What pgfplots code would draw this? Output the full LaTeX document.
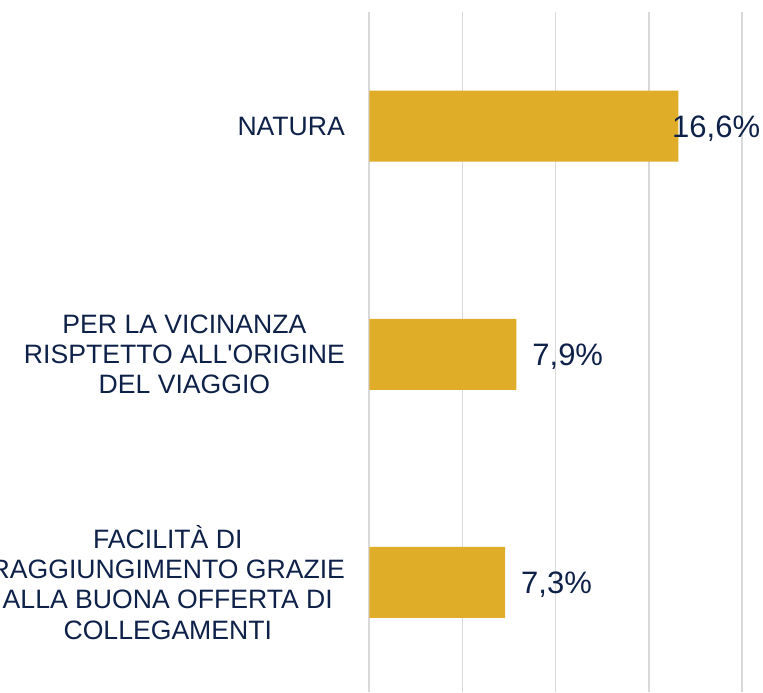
\documentclass[border=0pt]{standalone}
\usepackage{pgfplots}
\pgfplotsset{compat=1.18}
\usepackage{fontspec}
\setmainfont{Liberation Sans}
\definecolor{navy}{HTML}{0E2148}
\definecolor{gold}{HTML}{E0AD28}
\definecolor{gridgray}{HTML}{D9D9D9}
\begin{document}
\begin{tikzpicture}
\useasboundingbox (-184.65pt,0pt) rectangle (196.85pt,346pt);
\begin{axis}[
  at={(0pt,0pt)}, anchor=south west,
  scale only axis, width=186.2pt, height=340pt,
  xmin=0, xmax=20, ymin=-0.48, ymax=2.5,
  xbar, bar width=35.5pt,
  axis line style={draw=none},
  xtick={0,5,10,15,20}, xticklabel=\empty,
  xmajorgrids, grid style={gridgray, line width=0.9pt},
  major tick length=0pt,
  ytick={0,1,2},
  yticklabels={{FACILITÀ DI\\RAGGIUNGIMENTO GRAZIE\\ALLA BUONA OFFERTA DI\\COLLEGAMENTI},{PER LA VICINANZA\\RISPTETTO ALL\textquotesingle ORIGINE\\DEL VIAGGIO},{NATURA}},
  yticklabel style={align=center, font=\fontsize{13.3}{15.1}\selectfont, text=navy, inner sep=0pt, xshift=-12pt},
]
\addplot[fill=gold, draw=none,
  point meta=x,
  visualization depends on={\thisrow{dx} \as \dx},
  nodes near coords={\pgfmathprintnumber[fixed,fixed zerofill,precision=1,use comma,assume math mode=true]{\pgfplotspointmeta}\%},
  every node near coord/.append style={anchor=base west, inner sep=0pt, xshift=\dx pt, yshift=-5.5pt, text=navy, font=\fontsize{15.5}{18}\selectfont},
] table {
x y dx
7.3 0 7.8
7.9 1 7.8
16.6 2 -3.3
};
\end{axis}
\end{tikzpicture}
\end{document}
